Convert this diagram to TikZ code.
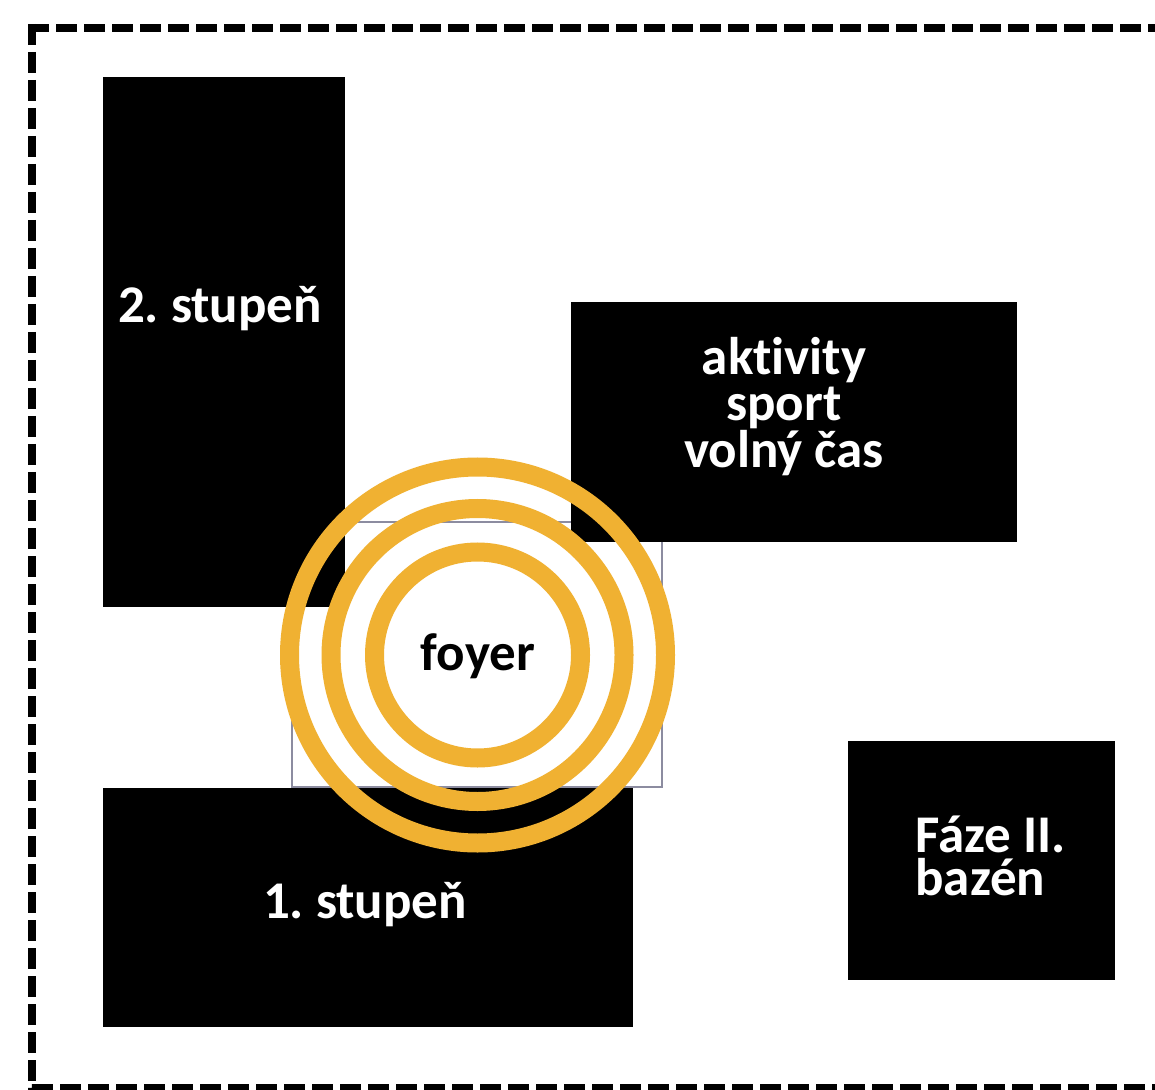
\documentclass[tikz,border=0pt]{standalone}
\usepackage{fontspec}
\setmainfont{Carlito}[Ligatures=NoCommon]
\frenchspacing
\definecolor{ringc}{HTML}{F0B132}
\definecolor{boxline}{HTML}{8C8CA0}
\begin{document}
\begin{tikzpicture}[x=0.5pt,y=-0.5pt,
  block/.style={fill=black,draw=none},
  lbl/.style={text=white,font=\bfseries\fontsize{26.5}{23}\selectfont,inner sep=0pt,anchor=base},
  lblw/.style={lbl,anchor=base west},
  ringline/.style={draw=ringc,line width=9.5pt},
  border/.style={line width=4pt,dash pattern=on 10.5pt off 3.5pt}]
\clip (0,0) rectangle (1155,1090);
\fill[white] (0,0) rectangle (1155,1090);
% dashed frame
\draw[border] (28,28) -- (1200,28);
\draw[border,miter limit=10] (32,24) -- (32,1088) -- (1200,1088);
% foyer outline box
\draw[boxline,line width=0.6pt] (292,522) rectangle (662,787);
% blocks
\path[block] (103,77) rectangle (345,607);
\path[block] (571,302) rectangle (1017,542);
\path[block] (103,788) rectangle (633,1027);
\path[block] (848,741) rectangle (1115,980);
% rings
\coordinate (fc) at (477.5,655);
\draw[ringline] (fc) circle [radius=188];
\draw[ringline] (fc) circle [radius=146.5];
\draw[ringline] (fc) circle [radius=103];
% labels
\node[lbl] (s2) at (220,323) {2. stupeň};
\node[lbl] (a1) at (784,375) {aktivity};
\node[lbl] (a2) at (784,421) {sport};
\node[lbl] (a3) at (784,467) {volný čas};
\node[lbl,text=black] (fy) at (478,670) {foyer};
\node[lblw] (f1) at (915,852) {Fáze II.};
\node[lblw] (f2) at (915,895) {bazén};
\node[lbl] (s1) at (365,918) {1. stupeň};
\end{tikzpicture}
\end{document}
